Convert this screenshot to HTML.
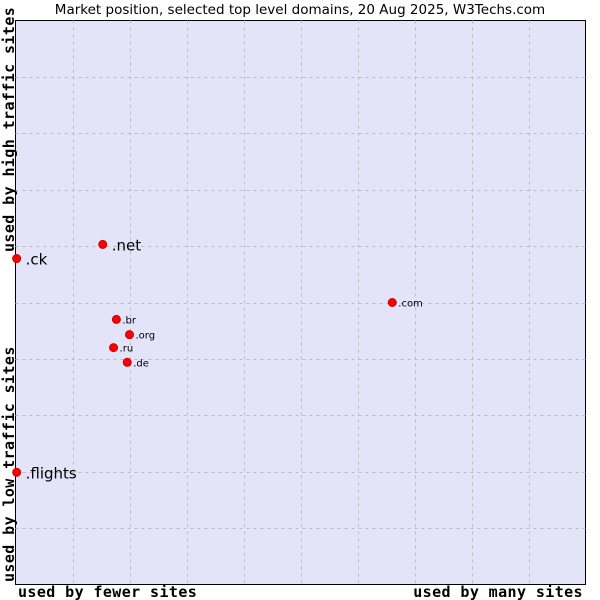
<!DOCTYPE html>
<html><head><meta charset="utf-8"><style>
body{margin:0;background:#fff;}
svg{display:block;}
</style></head><body>
<svg id="chart" width="600" height="600">
<text x="300" y="14" text-anchor="middle" font-family="DejaVu Sans, sans-serif" font-size="13.5" fill="#000">Market position, selected top level domains, 20 Aug 2025, W3Techs.com</text>
<rect x="15.5" y="20.5" width="570" height="564" fill="#e3e4f7" stroke="#000" stroke-width="1"/>
<g id="grid"></g>
<g id="points"></g>
<text x="18" y="597" font-family="DejaVu Sans Mono, monospace" font-size="15" letter-spacing="0.4" font-weight="bold">used by fewer sites</text>
<text x="583" y="597" text-anchor="end" font-family="DejaVu Sans Mono, monospace" font-size="15" letter-spacing="0.4" font-weight="bold">used by many sites</text>
<text transform="translate(14,582) rotate(-90)" font-family="DejaVu Sans Mono, monospace" font-size="15" letter-spacing="0.4" font-weight="bold">used by low traffic sites</text>
<text transform="translate(14,252) rotate(-90)" font-family="DejaVu Sans Mono, monospace" font-size="15" letter-spacing="0.4" font-weight="bold">used by high traffic sites</text>
</svg>
<script>
const labels = [".ck", ".net", ".com", ".br", ".org", ".ru", ".de", ".flights"];
const xValues = [0.02, 1.53, 6.61, 1.77, 2.0, 1.72, 1.96, 0.02];
const yValues = [5.78, 6.03, 5.0, 4.70, 4.43, 4.2, 3.94, 1.99];
const big = [true, true, false, false, false, false, false, true];
const ns = "http://www.w3.org/2000/svg";
const X0 = 15.5, X1 = 585.5, Y0 = 584.5, Y1 = 20.5;
function sx(v){ return X0 + v / 10 * (X1 - X0); }
function sy(v){ return Y0 - v / 10 * (Y0 - Y1); }
const grid = document.getElementById('grid');
for (let i = 1; i < 10; i++) {
  const v = document.createElementNS(ns, 'line');
  v.setAttribute('x1', Math.round(sx(i)) + 0.5); v.setAttribute('x2', Math.round(sx(i)) + 0.5);
  v.setAttribute('y1', Y1); v.setAttribute('y2', Y0);
  v.setAttribute('stroke', '#bbb'); v.setAttribute('stroke-dasharray', '3,4');
  
  
  grid.appendChild(v);
  const h = document.createElementNS(ns, 'line');
  h.setAttribute('y1', Math.round(sy(i)) + 0.5); h.setAttribute('y2', Math.round(sy(i)) + 0.5);
  h.setAttribute('x1', X0); h.setAttribute('x2', X1);
  h.setAttribute('stroke', '#bbb'); h.setAttribute('stroke-dasharray', '3,4');
  
  
  grid.appendChild(h);
}
const pts = document.getElementById('points');
labels.forEach((lab, i) => {
  const cx = sx(xValues[i]), cy = sy(yValues[i]);
  const d = document.createElementNS(ns, 'circle');
  d.setAttribute('cx', cx); d.setAttribute('cy', cy); d.setAttribute('r', 4);
  d.setAttribute('fill', '#ff0000'); d.setAttribute('stroke', '#cc0000');
  
  
  pts.appendChild(d);
  const t = document.createElementNS(ns, 'text');
  t.setAttribute('x', cx + (big[i] ? 9 : 6));
  t.setAttribute('y', cy + (big[i] ? 6 : 4));
  t.setAttribute('font-family', 'DejaVu Sans, sans-serif');
  t.setAttribute('font-size', big[i] ? 15 : 10);
  t.textContent = lab;
  
  
  pts.appendChild(t);
});
</script>
</body></html>
